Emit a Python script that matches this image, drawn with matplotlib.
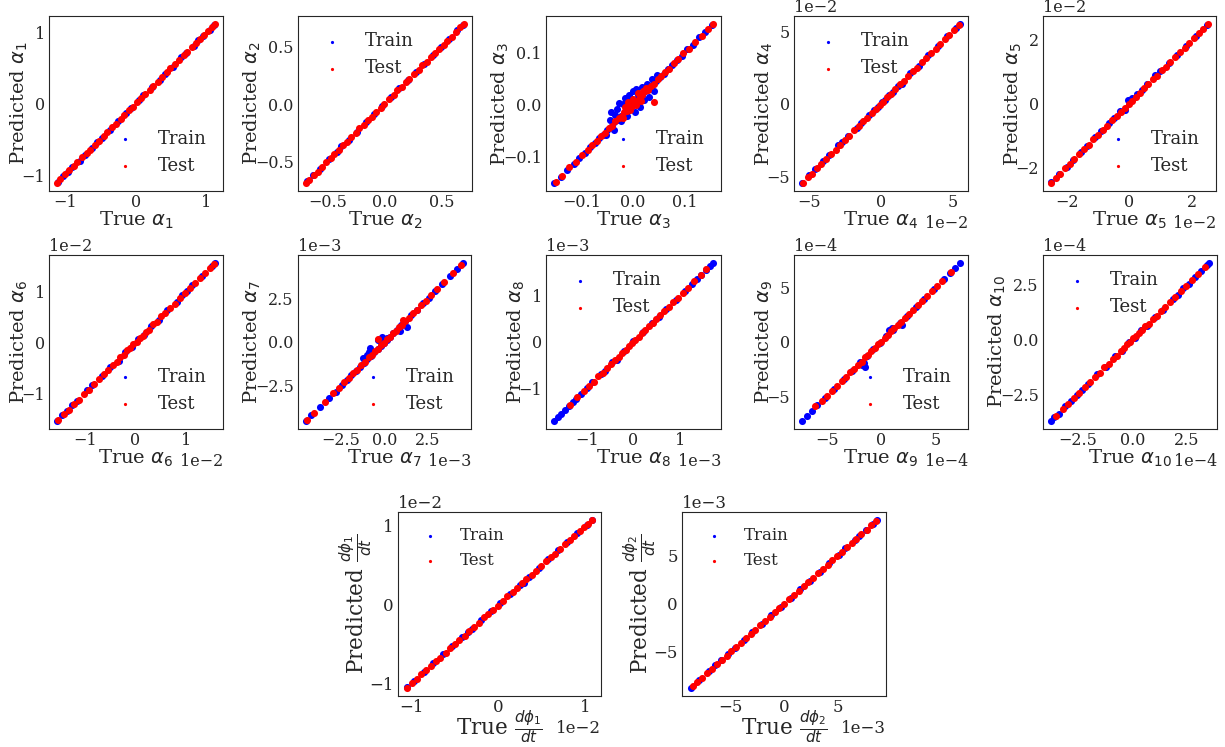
import matplotlib.pyplot as plt
import numpy as np
import seaborn as sns

sns.set_style("white")
plt.rcParams["font.family"] = ["DejaVu Serif"]
plt.rcParams["axes.formatter.limits"] = [-2, 2]
plt.rcParams["xtick.labelsize"] = 11.5
plt.rcParams["ytick.labelsize"] = 11.5
plt.rcParams["xtick.major.size"] = 0
plt.rcParams["ytick.major.size"] = 0
plt.rcParams["xtick.major.pad"] = 2
plt.rcParams["ytick.major.pad"] = 3

# true vs predicted coefficients; every list is in units of the panel's scale
a1_train_true = [-1.10, -1.03, -0.96, -0.90, -0.79, -0.72, -0.61, -0.55, -0.48, -0.36, -0.25, -0.13, -0.07,
                 0.05, 0.11, 0.23, 0.35, 0.41, 0.52, 0.64, 0.71, 0.82, 0.88, 0.95, 1.05, 1.11]
a1_train_pred = [-1.09, -1.01, -0.96, -0.89, -0.80, -0.71, -0.62, -0.54, -0.48, -0.37, -0.24, -0.13, -0.06,
                 0.05, 0.12, 0.23, 0.34, 0.42, 0.52, 0.65, 0.71, 0.81, 0.89, 0.95, 1.04, 1.11]
a1_test_true = [-1.11, -1.06, -0.99, -0.94, -0.87, -0.82, -0.76, -0.69, -0.64, -0.57, -0.52, -0.45, -0.40,
                -0.33, -0.28, -0.21, -0.16, -0.10, -0.04, 0.02, 0.08, 0.13, 0.20, 0.25, 0.32, 0.37, 0.44,
                0.49, 0.56, 0.61, 0.68, 0.73, 0.79, 0.85, 0.91, 0.97, 1.02, 1.08, 1.12]
a1_test_pred = [-1.11, -1.05, -0.99, -0.93, -0.87, -0.82, -0.75, -0.69, -0.64, -0.58, -0.52, -0.45, -0.39,
                -0.33, -0.28, -0.21, -0.16, -0.09, -0.04, 0.02, 0.08, 0.14, 0.20, 0.25, 0.31, 0.37, 0.44,
                0.50, 0.56, 0.61, 0.68, 0.73, 0.80, 0.85, 0.91, 0.96, 1.02, 1.08, 1.12]

a2_train_true = [-0.68, -0.63, -0.57, -0.49, -0.42, -0.38, -0.31, -0.24, -0.16, -0.09, -0.02, 0.06, 0.13,
                 0.21, 0.28, 0.35, 0.43, 0.50, 0.57, 0.64, 0.69]
a2_train_pred = [-0.67, -0.62, -0.57, -0.48, -0.42, -0.37, -0.31, -0.24, -0.16, -0.09, -0.02, 0.06, 0.14,
                 0.21, 0.28, 0.35, 0.43, 0.50, 0.57, 0.65, 0.69]
a2_test_true = [-0.69, -0.66, -0.62, -0.58, -0.55, -0.51, -0.47, -0.44, -0.40, -0.36, -0.33, -0.29, -0.25,
                -0.22, -0.18, -0.14, -0.11, -0.07, -0.03, 0.00, 0.04, 0.08, 0.11, 0.15, 0.19, 0.22, 0.26,
                0.30, 0.33, 0.37, 0.41, 0.44, 0.48, 0.52, 0.55, 0.59, 0.63, 0.66, 0.70]
a2_test_pred = [-0.69, -0.66, -0.62, -0.59, -0.55, -0.51, -0.47, -0.44, -0.40, -0.36, -0.33, -0.29, -0.25,
                -0.21, -0.18, -0.14, -0.11, -0.07, -0.03, 0.00, 0.04, 0.08, 0.12, 0.15, 0.19, 0.22, 0.26,
                0.30, 0.34, 0.37, 0.41, 0.45, 0.48, 0.52, 0.55, 0.59, 0.63, 0.67, 0.70]

a3_train_true = [-0.153, -0.140, -0.128, -0.115, -0.104, -0.093, -0.083, -0.074, -0.066, -0.058, -0.050,
                 -0.043, -0.036, -0.030, -0.024, -0.018, -0.012, -0.006, 0.000, 0.006, 0.012, 0.018, 0.024,
                 0.031, 0.038, 0.045, 0.052, 0.060, 0.068, 0.076, 0.085, 0.095, 0.105, 0.116, 0.128, 0.140,
                 0.153,
                 -0.052, -0.045, -0.042, -0.036, -0.035, -0.030, -0.028, -0.024, -0.020, -0.016, -0.012,
                 -0.008, -0.004, 0.000, 0.003, 0.006, 0.010, 0.013, 0.018, 0.022, 0.027, 0.031, 0.036,
                 0.041, 0.046]
a3_train_pred = [-0.152, -0.141, -0.127, -0.116, -0.103, -0.094, -0.082, -0.075, -0.065, -0.059, -0.049,
                 -0.044, -0.035, -0.031, -0.023, -0.019, -0.011, -0.007, 0.001, 0.005, 0.013, 0.017, 0.025,
                 0.030, 0.039, 0.044, 0.053, 0.059, 0.069, 0.075, 0.086, 0.094, 0.106, 0.115, 0.129, 0.139,
                 0.153,
                 -0.060, -0.030, -0.014, -0.050, -0.020, -0.010, 0.002, -0.032, 0.000, 0.012, -0.022,
                 0.018, 0.008, 0.026, -0.014, 0.030, 0.018, -0.006, 0.034, 0.008, 0.040, 0.014, 0.048,
                 0.026, 0.056]
a3_test_true = [-0.150, -0.138, -0.123, -0.110, -0.098, -0.088, -0.079, -0.070, -0.062, -0.054, -0.047,
                -0.040, -0.034, -0.028, -0.022, -0.017, -0.012, -0.007, -0.002, 0.003, 0.008, 0.013, 0.018,
                0.023, 0.029, 0.035, 0.041, 0.048, 0.055, 0.062, 0.070, 0.079, 0.088, 0.097, 0.108, 0.120,
                0.133, 0.145, 0.155,
                -0.020, -0.015, -0.010, -0.005, 0.000, 0.005, 0.010, 0.015, 0.020, 0.025, 0.040]
a3_test_pred = [-0.150, -0.139, -0.122, -0.111, -0.097, -0.089, -0.078, -0.071, -0.061, -0.055, -0.046,
                -0.041, -0.033, -0.027, -0.023, -0.015, -0.013, -0.005, -0.003, 0.005, 0.007, 0.015, 0.017,
                0.025, 0.028, 0.036, 0.040, 0.049, 0.054, 0.063, 0.069, 0.080, 0.087, 0.098, 0.107, 0.121,
                0.132, 0.146, 0.155,
                -0.026, -0.006, 0.005, -0.011, 0.010, -0.001, 0.021, 0.006, 0.026, 0.031, 0.004]

a4_train_true = [-5.50, -5.00, -4.60, -4.00, -3.65, -3.00, -2.70, -2.30, -1.70, -1.40, -0.80, -0.50, -0.20,
                 0.05, 0.30, 0.55, 0.85, 1.15, 1.45, 2.05, 2.65, 3.30, 3.95, 4.60, 5.25, 5.50]
a4_train_pred = [-5.45, -4.90, -4.50, -3.90, -3.55, -2.85, -2.60, -2.20, -1.65, -1.30, -0.75, -0.45, -0.20,
                 0.10, 0.30, 0.60, 0.85, 1.20, 1.40, 2.10, 2.60, 3.35, 3.95, 4.65, 5.25, 5.50]
a4_test_true = [-5.45, -5.10, -4.80, -4.45, -4.15, -3.80, -3.50, -3.15, -2.85, -2.50, -2.20, -1.85, -1.55,
                -1.25, -0.95, -0.65, -0.35, -0.10, 0.15, 0.40, 0.70, 1.00, 1.30, 1.60, 1.90, 2.20, 2.50,
                2.85, 3.15, 3.45, 3.80, 4.10, 4.45, 4.75, 5.05, 5.40]
a4_test_pred = [-5.45, -5.05, -4.80, -4.40, -4.15, -3.80, -3.45, -3.15, -2.80, -2.50, -2.20, -1.80, -1.55,
                -1.20, -0.95, -0.60, -0.35, -0.05, 0.15, 0.45, 0.70, 1.00, 1.35, 1.60, 1.90, 2.25, 2.50,
                2.85, 3.15, 3.50, 3.80, 4.10, 4.45, 4.75, 5.10, 5.40]

a5_train_true = [-2.48, -2.25, -2.00, -1.80, -1.55, -1.35, -1.10, -0.90, -0.65, -0.50, -0.30, -0.14, -0.04,
                 0.07, 0.25, 0.40, 0.55, 0.81, 0.97, 1.25, 1.50, 1.80, 2.10, 2.45]
a5_train_pred = [-2.47, -2.22, -1.98, -1.78, -1.52, -1.32, -1.06, -0.86, -0.62, -0.45, -0.22, -0.21, 0.11,
                 0.17, 0.30, 0.44, 0.60, 0.91, 1.01, 1.28, 1.52, 1.82, 2.12, 2.46]
a5_test_true = [-2.50, -2.35, -2.20, -2.05, -1.90, -1.75, -1.60, -1.45, -1.30, -1.15, -1.00, -0.85, -0.70,
                -0.55, -0.40, -0.28, -0.15, -0.03, 0.08, 0.20, 0.33, 0.46, 0.60, 0.74, 0.88, 1.02, 1.16,
                1.30, 1.45, 1.60, 1.75, 1.90, 2.05, 2.20, 2.35, 2.50]
a5_test_pred = [-2.50, -2.33, -2.20, -2.04, -1.90, -1.74, -1.60, -1.44, -1.30, -1.13, -1.00, -0.84, -0.70,
                -0.53, -0.40, -0.26, -0.15, -0.01, 0.08, 0.22, 0.33, 0.48, 0.60, 0.76, 0.88, 1.04, 1.16,
                1.31, 1.45, 1.61, 1.75, 1.91, 2.05, 2.21, 2.35, 2.50]

a6_train_true = [-1.55, -1.45, -1.35, -1.25, -1.15, -0.95, -0.85, -0.67, -0.50, -0.33, -0.20, -0.06, 0.05,
                 0.17, 0.31, 0.46, 0.63, 0.82, 0.92, 1.02, 1.12, 1.32, 1.50, 1.57]
a6_train_pred = [-1.54, -1.43, -1.34, -1.23, -1.14, -0.93, -0.84, -0.65, -0.48, -0.35, -0.18, -0.08, 0.07,
                 0.15, 0.33, 0.44, 0.65, 0.81, 0.94, 1.01, 1.13, 1.31, 1.50, 1.57]
a6_test_true = [-1.52, -1.42, -1.32, -1.22, -1.12, -1.02, -0.92, -0.82, -0.72, -0.63, -0.54, -0.45, -0.37,
                -0.30, -0.23, -0.16, -0.10, -0.04, 0.02, 0.08, 0.14, 0.20, 0.27, 0.34, 0.42, 0.50, 0.59,
                0.68, 0.77, 0.87, 0.97, 1.07, 1.17, 1.27, 1.37, 1.47, 1.55]
a6_test_pred = [-1.52, -1.41, -1.32, -1.21, -1.12, -1.01, -0.92, -0.81, -0.72, -0.62, -0.54, -0.44, -0.38,
                -0.28, -0.24, -0.14, -0.11, -0.02, 0.01, 0.10, 0.13, 0.22, 0.26, 0.36, 0.41, 0.52, 0.58,
                0.69, 0.77, 0.88, 0.97, 1.08, 1.17, 1.27, 1.38, 1.47, 1.55]

a7_train_true = [-4.50, -4.20, -3.70, -3.20, -2.80, -2.45, -2.15, -1.90, -1.65, -1.42, -1.20, -0.98, -0.78,
                 -0.58, -0.40, -0.22, -0.05, 0.12, 0.30, 0.50, 0.72, 0.95, 1.20, 1.50, 1.85, 2.20, 2.55,
                 2.90, 3.30, 3.75, 4.15, 4.50,
                 -1.25, -1.02, -0.90, -0.83, -0.37, -0.16, 0.12, 0.90, 1.27]
a7_train_pred = [-4.50, -4.18, -3.72, -3.18, -2.82, -2.43, -2.17, -1.88, -1.67, -1.40, -1.22, -0.96, -0.80,
                 -0.56, -0.42, -0.20, -0.07, 0.14, 0.28, 0.52, 0.70, 0.97, 1.18, 1.52, 1.83, 2.22, 2.53,
                 2.92, 3.28, 3.77, 4.15, 4.50,
                 -0.93, -0.74, -0.55, -0.34, 0.10, 0.30, 0.21, 0.60, 0.88]
a7_test_true = [-4.45, -4.05, -3.40, -2.95, -2.60, -2.30, -2.05, -1.80, -1.55, -1.32, -1.10, -0.90, -0.70,
                -0.52, -0.35, -0.18, -0.02, 0.14, 0.30, 0.47, 0.64, 0.82, 1.00, 1.20, 1.40, 1.62, 1.85,
                2.10, 2.35, 2.65, 3.00, 3.40, 3.90, 4.40, -0.35, 1.05]
a7_test_pred = [-4.45, -4.05, -3.42, -2.93, -2.62, -2.28, -2.07, -1.78, -1.57, -1.30, -1.12, -0.88, -0.72,
                -0.50, -0.37, -0.16, -0.04, 0.16, 0.28, 0.49, 0.62, 0.84, 0.98, 1.22, 1.38, 1.64, 1.83,
                2.12, 2.33, 2.67, 3.00, 3.40, 3.90, 4.40, 0.17, 1.25]

a8_train_true = [-1.70, -1.62, -1.54, -1.46, -1.38, -1.30, -1.22, -1.12, -1.00, -0.88, -0.70, -0.60, -0.45,
                 -0.36, -0.20, 0.00, 0.20, 0.40, 0.55, 0.70, 0.90, 1.10, 1.25, 1.35, 1.45, 1.55, 1.63, 1.70]
a8_train_pred = [-1.70, -1.62, -1.54, -1.46, -1.38, -1.30, -1.22, -1.12, -0.99, -0.87, -0.68, -0.62, -0.42,
                 -0.38, -0.19, 0.02, 0.21, 0.41, 0.54, 0.71, 0.91, 1.10, 1.25, 1.35, 1.45, 1.55, 1.63, 1.70]
a8_test_true = [-1.35, -1.20, -1.05, -0.95, -0.85, -0.75, -0.66, -0.57, -0.48, -0.40, -0.32, -0.24, -0.17,
                -0.10, -0.03, 0.04, 0.11, 0.18, 0.25, 0.33, 0.41, 0.49, 0.57, 0.66, 0.75, 0.85, 0.95,
                1.05, 1.17, 1.30, 1.45, 1.55]
a8_test_pred = [-1.35, -1.19, -1.05, -0.94, -0.85, -0.74, -0.66, -0.56, -0.48, -0.39, -0.32, -0.23, -0.17,
                -0.09, -0.03, 0.05, 0.11, 0.19, 0.25, 0.34, 0.41, 0.50, 0.57, 0.67, 0.75, 0.86, 0.95,
                1.06, 1.17, 1.31, 1.45, 1.56]

a9_train_true = [-7.30, -6.85, -6.40, -5.90, -5.20, -4.35, -3.45, -2.65, -1.95, -1.35, -0.75, -0.15, 0.45,
                 1.05, 1.70, 2.35, 3.15, 3.95, 4.85, 5.80, 6.30, 6.80, 7.25,
                 -1.80, -1.63, -1.48, 0.68, 0.98, 1.90]
a9_train_pred = [-7.30, -6.85, -6.40, -5.85, -5.20, -4.35, -3.40, -2.65, -1.90, -1.35, -0.70, -0.15, 0.50,
                 1.05, 1.75, 2.35, 3.15, 3.95, 4.85, 5.80, 6.30, 6.80, 7.25,
                 -2.10, -1.97, -2.28, 1.10, 1.26, 1.57]
a9_test_true = [-6.10, -5.45, -5.00, -4.55, -4.10, -3.65, -3.25, -2.85, -2.50, -2.15, -1.80, -1.50, -1.20,
                -0.90, -0.60, -0.30, 0.00, 0.30, 0.60, 0.90, 1.20, 1.50, 1.85, 2.20, 2.55, 2.95, 3.35,
                3.75, 4.20, 4.65, 5.10, 5.60, 6.40]
a9_test_pred = [-5.95, -5.45, -5.00, -4.50, -4.10, -3.60, -3.25, -2.80, -2.50, -2.10, -1.85, -1.45, -1.25,
                -0.85, -0.60, -0.25, 0.00, 0.35, 0.60, 0.95, 1.25, 1.50, 1.85, 2.20, 2.55, 2.95, 3.35,
                3.75, 4.20, 4.65, 5.10, 5.60, 6.40]

a10_train_true = [-3.70, -3.55, -3.35, -3.05, -2.78, -2.52, -2.28, -2.03, -1.60, -1.18, -0.79, -0.45, -0.15,
                  0.12, 0.38, 0.68, 1.02, 1.40, 1.84, 2.08, 2.33, 2.58, 2.85, 3.15, 3.40, 3.50]
a10_train_pred = [-3.70, -3.52, -3.38, -3.02, -2.80, -2.49, -2.30, -2.00, -1.55, -1.22, -0.74, -0.50, -0.10,
                  0.08, 0.43, 0.64, 1.06, 1.36, 1.86, 2.05, 2.35, 2.55, 2.87, 3.13, 3.40, 3.50]
a10_test_true = [-3.45, -3.15, -2.90, -2.65, -2.40, -2.15, -1.92, -1.70, -1.48, -1.27, -1.07, -0.88, -0.70,
                 -0.53, -0.37, -0.22, -0.08, 0.05, 0.18, 0.31, 0.45, 0.60, 0.76, 0.93, 1.11, 1.30, 1.50,
                 1.72, 1.95, 2.20, 2.45, 2.70, 3.00, 3.30]
a10_test_pred = [-3.45, -3.13, -2.92, -2.63, -2.42, -2.13, -1.94, -1.68, -1.50, -1.25, -1.09, -0.86, -0.72,
                 -0.51, -0.39, -0.20, -0.10, 0.07, 0.16, 0.33, 0.43, 0.62, 0.74, 0.95, 1.09, 1.32, 1.48,
                 1.74, 1.93, 2.22, 2.45, 2.70, 3.00, 3.30]

dphi1_train_true = [-1.05, -0.97, -0.86, -0.75, -0.64, -0.53, -0.42, -0.35, -0.31, -0.20, -0.09, 0.02, 0.13,
                    0.24, 0.29, 0.35, 0.46, 0.57, 0.68, 0.79, 0.90, 1.01, 1.07]
dphi1_train_pred = [-1.04, -0.96, -0.85, -0.74, -0.63, -0.52, -0.41, -0.34, -0.31, -0.19, -0.08, 0.02, 0.14,
                    0.25, 0.28, 0.35, 0.47, 0.58, 0.69, 0.80, 0.91, 1.01, 1.07]
dphi1_test_true = [-1.05, -1.00, -0.94, -0.89, -0.83, -0.78, -0.72, -0.67, -0.61, -0.56, -0.50, -0.45, -0.39,
                   -0.34, -0.28, -0.23, -0.17, -0.12, -0.06, -0.01, 0.05, 0.10, 0.16, 0.21, 0.27, 0.32,
                   0.38, 0.43, 0.49, 0.54, 0.60, 0.65, 0.71, 0.76, 0.82, 0.87, 0.93, 0.98, 1.03, 1.07]
dphi1_test_pred = [-1.05, -0.99, -0.94, -0.88, -0.83, -0.78, -0.71, -0.67, -0.61, -0.55, -0.50, -0.45, -0.39,
                   -0.33, -0.28, -0.23, -0.16, -0.12, -0.06, -0.01, 0.05, 0.11, 0.16, 0.21, 0.27, 0.33,
                   0.38, 0.43, 0.49, 0.55, 0.60, 0.65, 0.71, 0.77, 0.82, 0.87, 0.93, 0.98, 1.03, 1.07]

dphi2_train_true = [-8.70, -8.00, -7.00, -6.50, -5.90, -5.30, -4.60, -3.80, -3.00, -2.10, -1.20, -0.30, 0.60,
                    1.50, 2.40, 3.30, 4.20, 5.10, 5.70, 6.60, 7.00, 7.60, 8.30, 8.65]
dphi2_train_pred = [-8.70, -7.95, -6.95, -6.40, -5.80, -5.20, -4.55, -3.75, -2.95, -2.10, -1.20, -0.30, 0.60,
                    1.50, 2.40, 3.30, 4.20, 5.10, 5.75, 6.65, 7.05, 7.60, 8.30, 8.65]
dphi2_test_true = [-8.55, -8.15, -7.70, -7.20, -6.80, -6.30, -5.85, -5.40, -4.95, -4.50, -4.05, -3.60, -3.15,
                   -2.70, -2.25, -1.80, -1.35, -0.90, -0.45, 0.00, 0.45, 0.90, 1.35, 1.80, 2.25, 2.70,
                   3.15, 3.60, 4.05, 4.50, 4.95, 5.40, 5.85, 6.30, 6.75, 7.20, 7.70, 8.15, 8.55]
dphi2_test_pred = [-8.50, -8.15, -7.65, -7.20, -6.75, -6.30, -5.80, -5.40, -4.95, -4.45, -4.05, -3.55, -3.15,
                   -2.70, -2.20, -1.80, -1.35, -0.85, -0.45, 0.00, 0.50, 0.90, 1.35, 1.85, 2.25, 2.70,
                   3.20, 3.60, 4.05, 4.55, 4.95, 5.40, 5.85, 6.35, 6.75, 7.20, 7.70, 8.15, 8.55]

alpha_label = r"$\alpha_{%d}$"
dphi1_label = r"$\frac{d\phi_1}{dt}$"
dphi2_label = r"$\frac{d\phi_2}{dt}$"

# (symbol, scale, ticks, train true/pred, test true/pred, legend loc, box in px: left, top, right, bottom)
panels = [
    (alpha_label % 1, 1, [-1, 0, 1], a1_train_true, a1_train_pred, a1_test_true, a1_test_pred,
     "lower right", (49, 16, 223, 191)),
    (alpha_label % 2, 1, [-0.5, 0, 0.5], a2_train_true, a2_train_pred, a2_test_true, a2_test_pred,
     "upper left", (298, 16, 472, 191)),
    (alpha_label % 3, 1, [-0.1, 0, 0.1], a3_train_true, a3_train_pred, a3_test_true, a3_test_pred,
     "lower right", (546, 16, 721, 191)),
    (alpha_label % 4, 1e-2, [-5, 0, 5], a4_train_true, a4_train_pred, a4_test_true, a4_test_pred,
     "upper left", (794, 16, 968, 191)),
    (alpha_label % 5, 1e-2, [-2, 0, 2], a5_train_true, a5_train_pred, a5_test_true, a5_test_pred,
     "lower right", (1043, 16, 1216, 191)),
    (alpha_label % 6, 1e-2, [-1, 0, 1], a6_train_true, a6_train_pred, a6_test_true, a6_test_pred,
     "lower right", (49, 255, 223, 429)),
    (alpha_label % 7, 1e-3, [-2.5, 0, 2.5], a7_train_true, a7_train_pred, a7_test_true, a7_test_pred,
     "lower right", (298, 255, 471, 429)),
    (alpha_label % 8, 1e-3, [-1, 0, 1], a8_train_true, a8_train_pred, a8_test_true, a8_test_pred,
     "upper left", (546, 255, 721, 429)),
    (alpha_label % 9, 1e-4, [-5, 0, 5], a9_train_true, a9_train_pred, a9_test_true, a9_test_pred,
     "lower right", (794, 255, 968, 429)),
    (alpha_label % 10, 1e-4, [-2.5, 0, 2.5], a10_train_true, a10_train_pred, a10_test_true, a10_test_pred,
     "upper left", (1043, 255, 1217, 429)),
    (dphi1_label, 1e-2, [-1, 0, 1], dphi1_train_true, dphi1_train_pred, dphi1_test_true, dphi1_test_pred,
     "upper left", (398, 512, 601, 696)),
    (dphi2_label, 1e-3, [-5, 0, 5], dphi2_train_true, dphi2_train_pred, dphi2_test_true, dphi2_test_pred,
     "upper left", (682, 512, 886, 696)),
]

FIG_W, FIG_H = 1225, 747
fig = plt.figure(figsize=(FIG_W / 100, FIG_H / 100), dpi=100)

for i, (sym, scale, ticks, tr_t, tr_p, te_t, te_p, loc, box) in enumerate(panels):
    left, top, right, bottom = box
    ax = fig.add_axes([left / FIG_W, 1 - bottom / FIG_H,
                       (right - left) / FIG_W, (bottom - top) / FIG_H])
    big = i >= 10

    ax.scatter(np.array(tr_t) * scale, np.array(tr_p) * scale, s=26, c="b", linewidths=0, label="Train")
    ax.scatter(np.array(te_t) * scale, np.array(te_p) * scale, s=26, c="r", linewidths=0, label="Test")

    tick_vals = np.array(ticks) * scale
    ax.set_xticks(tick_vals)
    ax.set_yticks(tick_vals)
    if big:
        ax.set_xlabel("True " + sym, fontsize=15.5, labelpad=-5)
        ax.set_ylabel("Predicted " + sym, fontsize=15.5, labelpad=-4)
        ax.tick_params(labelsize=12)
        ax.xaxis.get_offset_text().set_fontsize(12)
        ax.yaxis.get_offset_text().set_fontsize(12)
        ax.legend(loc=loc, fontsize=12, markerscale=0.45, frameon=False)
    else:
        ax.set_xlabel("True " + sym, fontsize=14, labelpad=-1)
        ax.set_ylabel("Predicted " + sym, fontsize=14, labelpad=-6)
        ax.legend(loc=loc, fontsize=13, markerscale=0.45, frameon=False)

fig.savefig("out.png", dpi=100)
